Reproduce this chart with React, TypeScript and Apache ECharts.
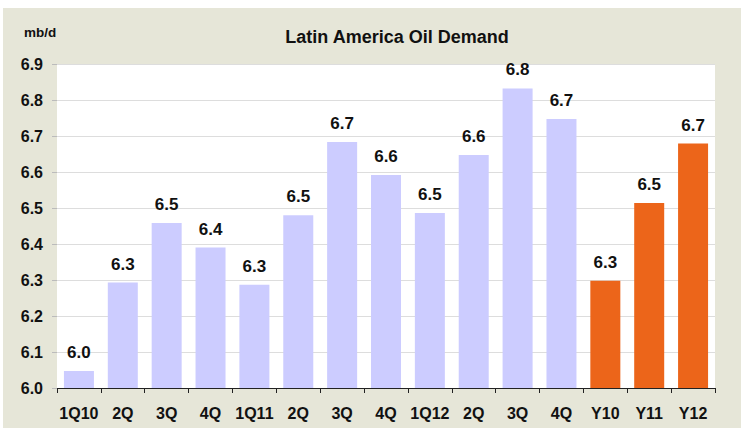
import React, { useEffect, useRef } from "react";
import * as echarts from "echarts";

const categories = ["1Q10", "2Q", "3Q", "4Q", "1Q11", "2Q", "3Q", "4Q", "1Q12", "2Q", "3Q", "4Q", "Y10", "Y11", "Y12"];
const values = [6.047, 6.293, 6.458, 6.39, 6.287, 6.48, 6.683, 6.592, 6.486, 6.647, 6.832, 6.747, 6.298, 6.514, 6.679];
const isAnnual = [false, false, false, false, false, false, false, false, false, false, false, false, true, true, true];
const yTicks = { min: 6.0, max: 6.9, interval: 0.1 };

const QUARTER_COLOR = "#CCCCFF";
const ANNUAL_COLOR = "#EC651A";
const FONT = "'Liberation Sans', Arial, sans-serif";

export default function App() {
  const ref = useRef<HTMLDivElement>(null);
  useEffect(() => {
    if (!ref.current) return;
    const chart = echarts.init(ref.current, null, { renderer: "svg" });
    chart.setOption({
      animation: false,
      backgroundColor: "#ffffff",
      graphic: [
        {
          type: "rect",
          shape: { x: 3, y: 8, width: 738, height: 420 },
          style: { fill: "#E6E6D8" },
          z: -10,
          silent: true,
        },
        {
          type: "text",
          left: 24,
          top: 25,
          style: { text: "mb/d", font: `bold 13.5px ${FONT}`, fill: "#111" },
        },
      ],
      title: {
        text: "Latin America Oil Demand",
        left: 392,
        top: 23,
        textAlign: "center",
        textStyle: { fontFamily: FONT, fontWeight: "bold", fontSize: 18, color: "#111" },
      },
      grid: {
        left: 57,
        right: 26,
        top: 64,
        bottom: 44,
        show: true,
        backgroundColor: "#ffffff",
        borderWidth: 0,
        containLabel: false,
      },
      xAxis: {
        type: "category",
        data: categories,
        axisLine: { show: true, lineStyle: { color: "#222", width: 1 } },
        axisTick: { show: true, alignWithLabel: false, length: 5, lineStyle: { color: "#222" } },
        axisLabel: { fontFamily: FONT, fontWeight: "bold", fontSize: 16, color: "#111", margin: 17, interval: 0 },
      },
      yAxis: {
        type: "value",
        min: yTicks.min,
        max: yTicks.max,
        interval: yTicks.interval,
        axisLine: { show: false },
        axisTick: { show: true, length: 5, lineStyle: { color: "#BBBBBB" } },
        splitLine: { show: true, lineStyle: { color: "#DDDDDD", width: 1 } },
        axisLabel: {
          fontFamily: FONT,
          fontWeight: "bold",
          fontSize: 16,
          color: "#111",
          margin: 14,
          formatter: (v: number) => v.toFixed(1),
        },
      },
      series: [
        {
          type: "bar",
          barWidth: 30,
          data: values.map((v, i) => ({
            value: v,
            itemStyle: { color: isAnnual[i] ? ANNUAL_COLOR : QUARTER_COLOR },
          })),
          label: {
            show: true,
            position: "top",
            distance: 10,
            fontFamily: FONT,
            fontWeight: "bold",
            fontSize: 17,
            color: "#111",
            formatter: (p: any) => Number(p.value).toFixed(1),
          },
        },
      ],
    });
    return () => chart.dispose();
  }, []);
  return (
    <div
      ref={ref}
      style={{ position: "fixed", left: 0, top: 0, width: 741, height: 432 }}
    />
  );
}
